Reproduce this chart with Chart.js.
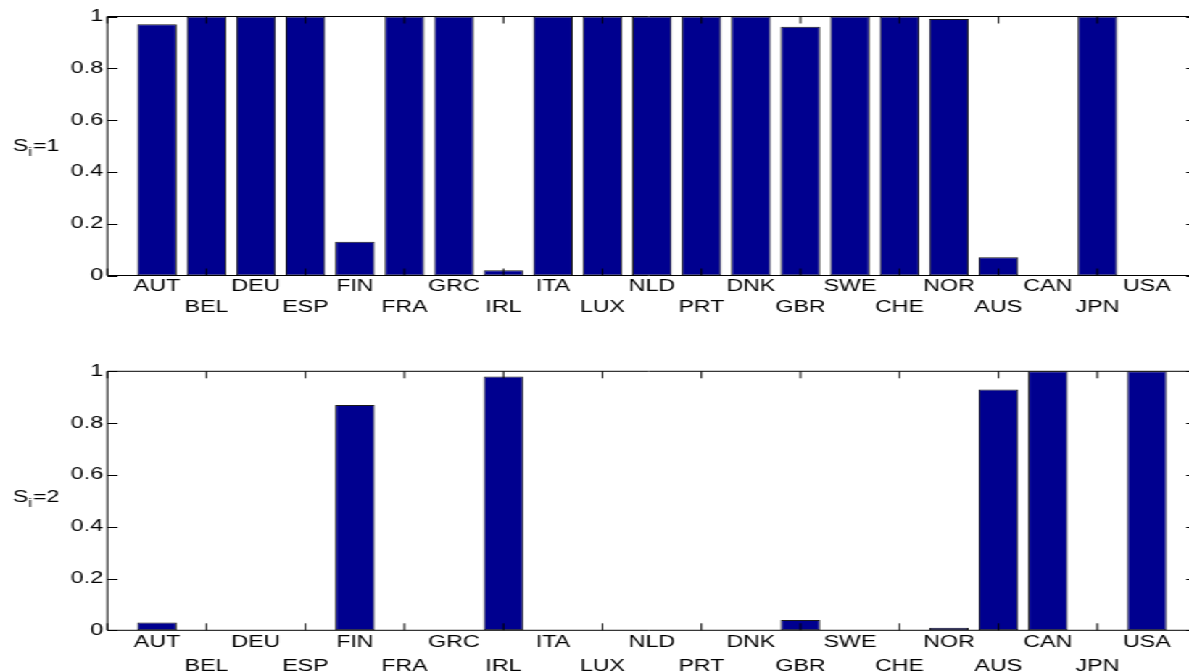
<!DOCTYPE html>
<html>
<head>
<meta charset="utf-8">
<script src="https://cdn.jsdelivr.net/npm/chart.js@4.4.1/dist/chart.umd.min.js"></script>
<style>
  html, body { margin: 0; padding: 0; background: #fff; overflow: hidden; }
  /* the reference figure is stretched sideways, so the whole drawing is too */
  #wrap { position: absolute; left: 0; top: 0; width: 820px; height: 671px;
          transform: scaleX(1.45); transform-origin: 0 0; }
  canvas { position: absolute; left: 0; display: block; }
</style>
</head>
<body>
<div id="wrap">
  <canvas id="top" width="820" height="340" style="top:0;width:820px;height:340px"></canvas>
  <canvas id="bottom" width="820" height="331" style="top:340px;width:820px;height:331px"></canvas>
</div>
<script>
// =========================
// data
// =========================
const countries = ["AUT", "BEL", "DEU", "ESP", "FIN", "FRA", "GRC", "IRL", "ITA", "LUX", "NLD",
                   "PRT", "DNK", "GBR", "SWE", "CHE", "NOR", "AUS", "CAN", "JPN", "USA"];

const regime1 = [0.97, 1, 1, 1, 0.13, 1, 1, 0.02, 1, 1, 1,
                 1, 1, 0.96, 1, 1, 0.99, 0.07, 0, 1, 0];

const regime2 = [0.03, 0, 0, 0, 0.87, 0, 0, 0.98, 0, 0, 0,
                 0, 0, 0.04, 0, 0, 0.01, 0.93, 1, 0, 1];

const yTicks = [0, 0.2, 0.4, 0.6, 0.8, 1];
const xTickMarks = [0, 2, 4, 6, 8, 10, 12, 14, 16, 18, 20, 22];

const X_END = 22;        // axis runs 0..22, right part falls off the page
const X_VISIBLE = 21.85;
const FONT = "Liberation Sans, Arial, Helvetica, sans-serif";
const BAR = "#00008f";

// =========================
// MATLAB-ish box + inward ticks + ylabel with subscript
// =========================
const matlabAxes = {
  id: "matlabAxes",
  afterDatasetsDraw(chart, args, o) {
    const { ctx, chartArea: a, scales: { x, y } } = chart;
    const right = x.getPixelForValue(X_END);
    ctx.save();
    ctx.strokeStyle = "#000";
    ctx.lineWidth = 1;
    ctx.beginPath();
    ctx.moveTo(a.left, a.bottom);
    ctx.lineTo(a.left, a.top);
    ctx.lineTo(right, a.top);
    ctx.lineTo(right, a.bottom);
    ctx.lineTo(a.left, a.bottom);
    yTicks.forEach(v => {
      const py = Math.round(y.getPixelForValue(v)) + 0.5;
      ctx.moveTo(a.left, py); ctx.lineTo(a.left + 7, py);
      ctx.moveTo(right, py); ctx.lineTo(right - 7, py);
    });
    xTickMarks.forEach(v => {
      const px = x.getPixelForValue(v);
      ctx.moveTo(px, a.bottom); ctx.lineTo(px, a.bottom - 7);
      ctx.moveTo(px, a.top); ctx.lineTo(px, a.top + 7);
    });
    ctx.stroke();

    // ylabel "S_i=n", horizontal
    ctx.fillStyle = "#000";
    ctx.textBaseline = "alphabetic";
    ctx.font = "16px " + FONT;
    let tx = o.labelX;
    ctx.fillText("S", tx, o.labelY);
    tx += ctx.measureText("S").width;
    ctx.font = "12px " + FONT;
    ctx.fillText("i", tx, o.labelY + 5);
    tx += ctx.measureText("i").width + 0.5;
    ctx.font = "16px " + FONT;
    ctx.fillText("=" + o.regime, tx, o.labelY);
    ctx.restore();
  }
};

function makeChart(id, values, cfg) {
  const canvas = document.getElementById(id);
  return new Chart(canvas.getContext("2d"), {
    type: "bar",
    data: {
      datasets: [{
        data: values.map((v, i) => ({ x: i + 1, y: v })),
        backgroundColor: BAR,
        borderColor: "#1a1a1a",
        borderWidth: 1,
        borderSkipped: false,
        barPercentage: 0.8,
        categoryPercentage: 1
      }]
    },
    options: {
      responsive: false,
      animation: false,
      events: [],
      layout: { padding: { top: cfg.padTop, left: 0, right: 0, bottom: 0 } },
      plugins: {
        legend: { display: false },
        tooltip: { enabled: false },
        matlabAxes: { labelX: 8.8, labelY: cfg.labelY, regime: cfg.regime }
      },
      scales: {
        x: {
          type: "linear",
          min: 0,
          max: X_VISIBLE,
          offset: false,
          grid: { display: false, drawTicks: false },
          border: { display: false },
          // one label per country, odd ones on the first row, even ones on the second
          afterBuildTicks: s => { s.ticks = countries.map((c, i) => ({ value: i + 1 })); },
          afterFit: s => { s.height = cfg.axisHeight; },
          ticks: {
            autoSkip: false,
            maxRotation: 0,
            minRotation: 0,
            padding: cfg.tickPad,
            color: "#000",
            font: { family: FONT, size: 16, lineHeight: cfg.lineHeight },
            callback: v => {
              const name = countries[v - 1];
              return v % 2 === 1 ? [name, ""] : ["", name];
            }
          }
        },
        y: {
          min: 0,
          max: 1,
          grid: { display: false, drawTicks: false },
          border: { display: false },
          afterFit: s => { s.width = 74.1; },
          ticks: {
            stepSize: 0.2,
            padding: 3,
            color: "#000",
            font: { family: FONT, size: 16 },
            callback: v => String(+v.toFixed(1))
          }
        }
      }
    },
    plugins: [matlabAxes]
  });
}

makeChart("top", regime1, {
  padTop: 16.5, axisHeight: 340 - 275.5, tickPad: 0, lineHeight: 1.356,
  labelY: 150.7, regime: 1
});
makeChart("bottom", regime2, {
  padTop: 31.3, axisHeight: 331 - 290.3, tickPad: 1, lineHeight: 1.45,
  labelY: 162, regime: 2
});
</script>
</body>
</html>
